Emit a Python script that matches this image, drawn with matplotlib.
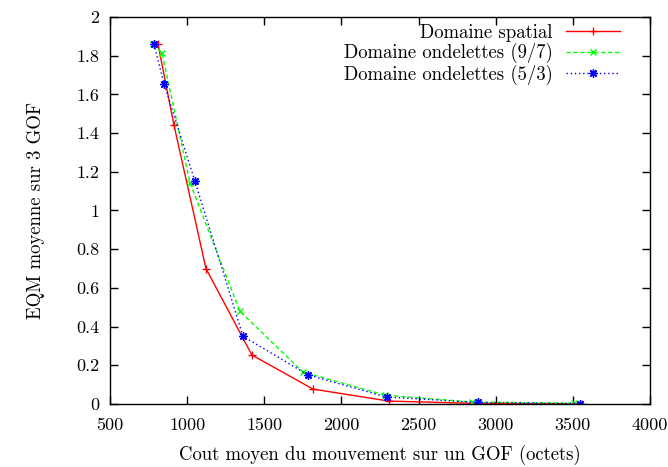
import matplotlib
matplotlib.use("Agg")
import matplotlib.pyplot as plt
from matplotlib.ticker import FuncFormatter, MultipleLocator

plt.rcParams['font.family'] = ['cmr10', 'DejaVu Serif']
plt.rcParams['axes.formatter.use_mathtext'] = True

# Data
spatial_x = [811, 915, 1122, 1420, 1816, 2308, 2880, 3560]
spatial_y = [1.86, 1.44, 0.70, 0.253, 0.077, 0.015, 0.003, 0.001]

o97_x = [779, 837, 1018, 1342, 1751, 2282, 2846, 3507]
o97_y = [1.86, 1.814, 1.144, 0.479, 0.165, 0.046, 0.010, 0.004]

o53_x = [785, 850, 1051, 1362, 1784, 2293, 2886, 3546]
o53_y = [1.86, 1.655, 1.15, 0.35, 0.15, 0.036, 0.008, 0.002]

labels = ["Domaine spatial", "Domaine ondelettes (9/7)", "Domaine ondelettes (5/3)"]
xlabel = "Cout moyen du mouvement sur un GOF (octets)"
ylabel = "EQM moyenne sur 3 GOF"

fig = plt.figure(figsize=(6.68, 4.67), dpi=100)
ax = fig.add_axes([110/668, 63/467, 540/668, 387/467])

ax.plot(spatial_x, spatial_y, color='#ff0000', lw=1, marker='+', ms=6, mew=1,
        label=labels[0])
ax.plot(o97_x, o97_y, color='#00ff00', lw=1, ls=(0, (3, 2)), marker='x', ms=5, mew=1,
        label=labels[1])
ax.plot(o53_x, o53_y, color='#0000ff', lw=1, ls=(0, (1, 2)), marker=(8, 2, 0), ms=6, mew=1,
        label=labels[2])

ax.set_xlim(500, 4000)
ax.set_ylim(0, 2)
ax.xaxis.set_major_locator(MultipleLocator(500))
ax.yaxis.set_major_locator(MultipleLocator(0.2))
ax.yaxis.set_major_formatter(FuncFormatter(lambda v, p: "%g" % round(v, 2)))
ax.xaxis.set_major_formatter(FuncFormatter(lambda v, p: "%g" % v))
ax.tick_params(direction='in', top=True, right=True, length=6, width=1,
               labelsize=13)
ax.tick_params(axis='x', pad=10)
ax.tick_params(axis='y', pad=8)
for s in ax.spines.values():
    s.set_linewidth(1)

ax.set_xlabel(xlabel, fontsize=13.5, labelpad=8.5)
ax.set_ylabel(ylabel, fontsize=13.5, labelpad=22)

leg = ax.legend(loc='upper right', frameon=False, markerfirst=False,
                fontsize=13.5, handlelength=2.9, borderaxespad=0.0,
                borderpad=0.0, labelspacing=0.06, handletextpad=0.7,
                bbox_to_anchor=(620/668, (467 - 24) / 467),
                bbox_transform=fig.transFigure)
for t in leg.get_texts():
    t.set_ha('right')
leg._legend_box.align = "right"

fig.savefig("out.png", dpi=100)
